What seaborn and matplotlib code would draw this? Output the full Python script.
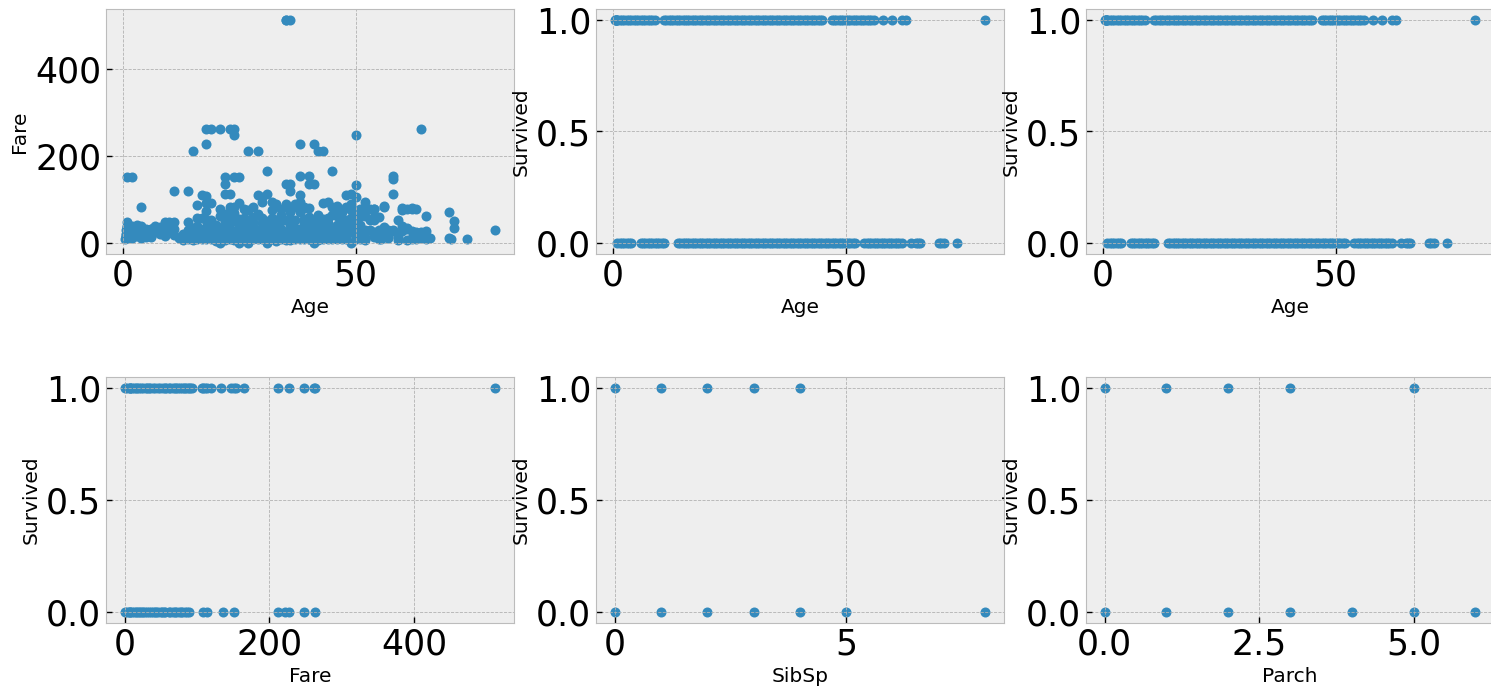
import matplotlib
matplotlib.use("Agg")
import matplotlib.pyplot as plt
import seaborn as sns
import pandas as pd

plt.style.use("bmh")
plt.rcParams['font.family'] = ['DejaVu Sans']

# ---------------- data ----------------
# Panel 1: (Age, Fare) points
age_fare_points = [
    (0.42, 8.52), (0.67, 14.5), (0.75, 19.26), (0.75, 13.78), (0.83, 29.0), (0.83, 18.75),
    (0.92, 151.55), (1, 11.13), (1, 39.69), (1, 46.9), (1, 20.58), (1, 15.74), (1, 37.0),
    (2, 151.55), (2, 29.13), (2, 27.9), (2, 10.46), (2, 31.28), (2, 39.69), (2, 21.08), (2, 26.0),
    (3, 26.0), (3, 15.9), (3, 41.58), (3, 18.75), (3, 31.39), (3, 21.08),
    (4, 16.7), (4, 29.13), (4, 23.0), (4, 81.86), (4, 11.13), (4, 39.69), (4, 22.03), (4, 27.9),
    (5, 31.39), (5, 27.75), (5, 19.26), (5, 12.48), (6, 31.27), (6, 33.0), (6, 12.48), (6, 15.25),
    (7, 39.69), (7, 26.25), (7, 29.13), (8, 21.08), (8, 26.25), (8, 36.75), (8, 31.39),
    (9, 31.39), (9, 27.9), (9, 15.25), (9, 46.9), (9, 20.52), (10, 27.9), (10, 46.9), (10, 24.15),
    (11, 120.0), (11, 31.27), (11, 46.9), (11, 18.79), (12, 11.24), (13, 19.5), (13, 7.23),
    (14, 120.0), (14, 11.24), (14, 30.07), (14, 7.85), (14, 46.9), (14.5, 14.45),
    (15, 211.34), (15, 8.03), (15, 7.23), (15, 14.45), (15, 35.0),
    (16, 86.5), (16, 7.75), (16, 18.0), (16, 39.4), (16, 57.98), (16, 26.0),
    (17, 110.88), (17, 7.92), (17, 10.5), (17, 57.0), (17, 14.46), (17, 30.0),
    (18, 262.38), (18, 227.53), (18, 108.9), (18, 7.75), (18, 11.5), (18, 13.0), (18, 53.1),
    (18, 17.8), (18, 73.5), (18, 92.5), (18, 36.0),
    (19, 263.0), (19, 91.08), (19, 7.9), (19, 26.0), (19, 10.5), (19, 30.0), (19, 53.1), (19, 36.75),
    (20, 9.85), (20, 7.93), (20, 4.01), (20, 15.74), (20, 26.0), (20, 42.0),
    (21, 262.38), (21, 77.29), (21, 61.38), (21, 8.05), (21, 11.5), (21, 34.38), (21, 26.0), (21, 0.0),
    (22, 151.55), (22, 135.63), (22, 113.0), (22, 66.6), (22, 7.25), (22, 10.5), (22, 26.0), (22, 39.69), (22, 49.5),
    (23, 263.0), (23, 113.28), (23, 82.27), (23, 7.85), (23, 13.0), (23, 15.0), (23, 63.36), (23, 30.5), (23, 45.0),
    (24, 263.0), (24, 247.52), (24, 151.55), (24, 83.16), (24, 69.3), (24, 7.5), (24, 14.5), (24, 27.72), (24, 49.5),
    (25, 151.55), (25, 91.08), (25, 55.44), (25, 7.05), (25, 13.0), (25, 26.0), (25, 41.58), (25, 0.0),
    (26, 78.85), (26, 56.5), (26, 7.9), (26, 18.79), (26, 30.0), (26, 14.45), (26, 40.0),
    (27, 211.5), (27, 76.73), (27, 53.1), (27, 7.8), (27, 13.0), (27, 30.5), (27, 21.0), (27, 0.0),
    (28, 82.17), (28, 7.9), (28, 13.0), (28, 26.55), (28, 47.1), (28, 35.5), (28, 60.0),
    (29, 211.34), (29, 66.6), (29, 30.0), (29, 7.9), (29, 10.5), (29, 26.0), (29, 21.07), (29, 110.88),
    (30, 106.43), (30, 93.5), (30, 56.93), (30, 8.66), (30, 13.0), (30, 24.15), (30, 31.0), (30, 45.5),
    (31, 164.87), (31, 113.28), (31, 50.5), (31, 7.75), (31, 18.0), (31, 37.0), (31, 26.25), (31, 0.0),
    (32, 76.29), (32, 56.5), (32, 7.9), (32, 15.5), (32, 30.5), (32, 26.0), (32, 93.5), (32, 42.0),
    (33, 90.0), (33, 53.1), (33, 7.9), (33, 12.28), (33, 26.55), (33, 5.0), (33, 40.0),
    (34, 78.85), (34, 7.9), (34, 13.0), (34, 21.0), (34, 32.5), (34, 50.0), (34, 65.0),
    (35, 512.33), (35, 135.63), (35, 90.0), (35, 53.1), (35, 83.48), (35, 7.05), (35, 26.0), (35, 20.25), (35, 512.33),
    (36, 512.33), (36, 135.63), (36, 120.0), (36, 71.0), (36, 7.5), (36, 13.0), (36, 24.15), (36, 40.13), (36, 55.0),
    (37, 90.0), (37, 83.16), (37, 7.9), (37, 26.0), (37, 53.1), (37, 15.0), (37, 35.0),
    (38, 227.53), (38, 153.46), (38, 80.0), (38, 71.28), (38, 7.9), (38, 13.0), (38, 31.39), (38, 110.88), (38, 93.0),
    (39, 83.16), (39, 79.65), (39, 7.9), (39, 13.0), (39, 26.0), (39, 31.27), (39, 55.9), (39, 45.0),
    (40, 153.46), (40, 134.5), (40, 79.2), (40, 7.9), (40, 9.48), (40, 27.72), (40, 39.0), (40, 15.5), (40, 60.0),
    (41, 134.5), (41, 51.86), (41, 7.85), (41, 14.11), (41, 20.21), (41, 39.69), (41, 227.53), (41, 0.0),
    (42, 211.5), (42, 52.55), (42, 7.55), (42, 13.0), (42, 26.55), (42, 32.5), (42, 65.0),
    (43, 211.5), (43, 55.44), (43, 8.05), (43, 26.25), (43, 92.0), (43, 40.0),
    (44, 93.0), (44, 57.98), (44, 7.9), (44, 16.1), (44, 26.0), (44, 45.0),
    (45, 164.87), (45, 83.48), (45, 26.55), (45, 7.75), (45, 13.5), (45, 30.0), (45, 63.36), (45.5, 28.5),
    (46, 79.2), (46, 85.0), (46, 61.18), (46, 26.0), (46, 7.9), (46, 40.0),
    (47, 52.0), (47, 34.02), (47, 9.0), (47, 15.0), (47, 25.59), (47, 70.0),
    (48, 110.88), (48, 82.0), (48, 52.0), (48, 39.6), (48, 7.85), (48, 13.0), (48, 25.93),
    (49, 89.1), (49, 56.93), (49, 25.93), (49, 0.0), (49, 76.73), (49, 40.0), (49, 113.28),
    (50, 247.52), (50, 133.65), (50, 106.43), (50, 55.9), (50, 28.71), (50, 13.0), (50, 8.05), (50, 26.0), (50, 74.0),
    (51, 77.96), (51, 61.38), (51, 26.55), (51, 12.52), (51, 8.05), (51, 42.0),
    (52, 93.5), (52, 79.65), (52, 62.0), (52, 30.5), (52, 13.5), (52, 7.0),
    (53, 51.48), (53, 77.0), (53, 30.0), (54, 77.29), (54, 78.27), (54, 59.4), (54, 51.86), (54, 26.0), (54, 14.0),
    (55, 59.4), (55, 30.5), (55, 16.0), (55, 8.05), (55.5, 8.05),
    (56, 83.16), (56, 84.6), (56, 30.7), (56, 26.55), (56, 35.5), (57, 12.35), (57, 10.5), (57, 30.0),
    (58, 153.46), (58, 146.52), (58, 113.28), (58, 26.55), (58, 29.7),
    (59, 51.48), (59, 13.5), (59, 7.25), (60, 79.2), (60, 75.25), (60, 39.0), (60, 26.55),
    (61, 78.9), (61, 32.32), (61, 33.5), (61, 6.24), (62, 80.0), (62, 78.0), (62, 26.55), (62, 10.5), (62, 9.69),
    (63, 77.96), (63, 9.59), (63, 25.0), (64, 263.0), (64, 26.0), (64, 11.0),
    (65, 61.98), (65, 26.55), (65, 7.75), (66, 10.5),
    (70, 71.0), (70, 10.5), (70.5, 7.75), (71, 49.5), (71, 34.65), (74, 7.78), (80, 30.0),
]

# Panels 2-3: Age by survival outcome
survived_ages = [0.42, 0.67, 0.75, 0.83, 0.92, 1, 1.5, 2, 2.5, 3, 3.5, 4, 4.5, 5, 5.5, 6, 6.5, 7,
                 7.5, 8, 8.5, 9, 11, 11.5, 12, 12.5, 13, 13.5, 14, 14.5, 15, 15.5, 16, 16.5, 17,
                 17.5, 18, 18.5, 19, 19.5, 20, 20.5, 21, 21.5, 22, 22.5, 23, 23.5, 24, 24.5, 25,
                 25.5, 26, 26.5, 27, 27.5, 28, 28.5, 29, 29.5, 30, 30.5, 31, 31.5, 32, 32.5, 33,
                 33.5, 34, 34.5, 35, 35.5, 36, 36.5, 37, 37.5, 38, 38.5, 39, 39.5, 40, 40.5, 41,
                 41.5, 42, 42.5, 43, 43.5, 44, 44.5, 45, 47, 47.5, 48, 48.5, 49, 49.5, 50, 50.5,
                 51, 51.5, 52, 52.5, 53, 53.5, 54, 54.5, 55, 55.5, 56, 58, 60, 62, 63, 80]
died_ages = [1, 1.5, 2, 2.5, 3, 3.5, 4, 6, 6.5, 7, 7.5, 8, 8.5, 9, 9.5, 10, 10.5, 11, 14, 14.5,
             15, 15.5, 16, 16.5, 17, 17.5, 18, 18.5, 19, 19.5, 20, 20.5, 21, 21.5, 22, 22.5, 23,
             23.5, 24, 24.5, 25, 25.5, 26, 26.5, 27, 27.5, 28, 28.5, 29, 29.5, 30, 30.5, 31, 31.5,
             32, 32.5, 33, 33.5, 34, 34.5, 35, 35.5, 36, 36.5, 37, 37.5, 38, 38.5, 39, 39.5, 40,
             40.5, 41, 41.5, 42, 42.5, 43, 43.5, 44, 44.5, 45, 45.5, 46, 46.5, 47, 47.5, 48, 48.5,
             49, 49.5, 50, 50.5, 51, 51.5, 52, 54, 54.5, 55, 55.5, 56, 56.5, 57, 57.5, 58, 58.5,
             59, 59.5, 60, 60.5, 61, 61.5, 62, 64, 65, 65.5, 66, 70, 70.5, 71, 74]

# Panel 4: Fare by survival outcome
survived_fares = [0.0, 4.0, 7.25, 7.75, 8.05, 10.5, 13.0, 15.5, 17.5, 19.5, 23.0, 26.0, 29.0, 31.0,
                  33.5, 35.5, 39.6, 42.4, 46.0, 49.5, 52.5, 55.9, 57.0, 61.2, 63.4, 66.6, 69.3,
                  71.3, 73.5, 76.7, 79.2, 82.2, 84.0, 86.5, 89.1, 91.1, 93.5, 106.43, 108.9,
                  110.88, 113.28, 120.0, 133.65, 146.52, 151.55, 153.46, 164.87, 211.34, 227.53,
                  247.52, 262.38, 263.0, 512.33]
died_fares = [0.0, 4.0, 6.5, 7.25, 7.9, 10.5, 13.0, 15.5, 17.8, 19.5, 21.0, 24.0, 26.0, 27.7,
              31.0, 34.4, 37.0, 39.0, 42.4, 44.0, 46.9, 50.5, 52.0, 55.0, 56.5, 61.2, 63.0, 66.6,
              69.55, 71.3, 75.25, 77.3, 79.65, 83.5, 86.5, 89.1, 108.9, 113.28, 135.63, 151.55,
              211.5, 221.78, 227.53, 247.52, 263.0]

# Panel 5: SibSp by survival outcome
survived_sibsp = [0, 1, 2, 3, 4]
died_sibsp = [0, 1, 2, 3, 4, 5, 8]

# Panel 6: Parch by survival outcome
survived_parch = [0, 1, 2, 3, 5]
died_parch = [0, 1, 2, 3, 4, 5, 6]

xticks = {"Age": [0, 50], "Fare": [0, 200, 400], "SibSp": [0, 5], "Parch": [0.0, 2.5, 5.0]}


def outcome_frame(col, surv, died):
    return pd.DataFrame({col: list(surv) + list(died),
                         "Survived": [1.0] * len(surv) + [0.0] * len(died)})


df_af = pd.DataFrame(age_fare_points, columns=["Age", "Fare"])
panels = [
    (df_af, "Age", "Fare"),
    (outcome_frame("Age", survived_ages, died_ages), "Age", "Survived"),
    (outcome_frame("Age", survived_ages, died_ages), "Age", "Survived"),
    (outcome_frame("Fare", survived_fares, died_fares), "Fare", "Survived"),
    (outcome_frame("SibSp", survived_sibsp, died_sibsp), "SibSp", "Survived"),
    (outcome_frame("Parch", survived_parch, died_parch), "Parch", "Survived"),
]

W, H = 1491, 688
fig = plt.figure(figsize=(W / 100, H / 100), dpi=100)
lefts = [106, 596, 1086]
rows = [(9, 254), (377, 623)]
color = "#348ABD"

for i, (df, xc, yc) in enumerate(panels):
    r, c = divmod(i, 3)
    top, bot = rows[r]
    ax = fig.add_axes([lefts[c] / W, 1 - bot / H, 408 / W, (bot - top) / H])
    sns.scatterplot(data=df, x=xc, y=yc, ax=ax, color=color, s=52, linewidth=0, alpha=1)
    ax.set_xticks(xticks[xc])
    if yc == "Fare":
        ax.set_yticks([0, 200, 400])
    else:
        ax.set_yticks([0.0, 0.5, 1.0])
        ax.set_yticklabels(["0.0", "0.5", "1.0"])
    if xc == "Parch":
        ax.set_xticklabels(["0.0", "2.5", "5.0"])
    ax.tick_params(axis="both", labelsize=25, direction="in", length=4.5, width=1, color="black")
    ax.set_xlabel(xc, fontsize=14.5)
    ax.set_ylabel(yc, fontsize=14.5)
    ax.set_facecolor("#eeeeee")
    ax.grid(True, color="#b2b2b2", linestyle="--", linewidth=0.6)
    for sp in ax.spines.values():
        sp.set_color("#bcbcbc")

fig.savefig("out.png", dpi=100)
